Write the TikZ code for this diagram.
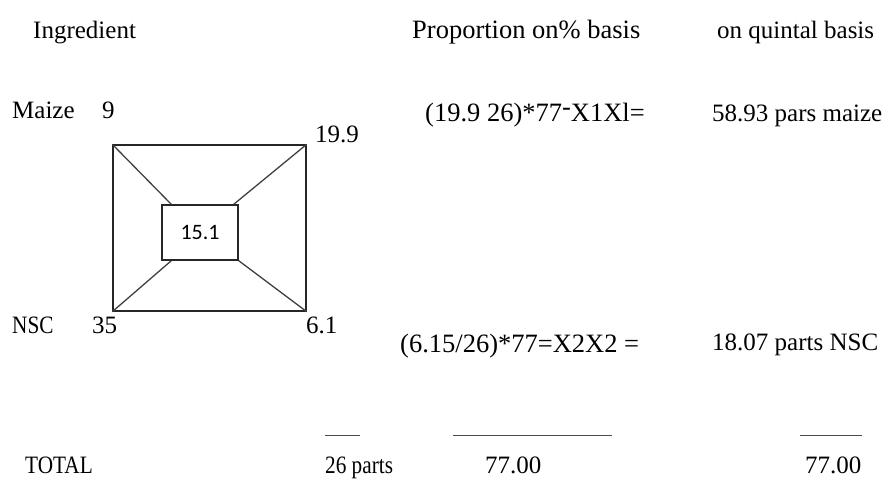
\documentclass[tikz,border=0pt]{standalone}
\usepackage{fontspec}
\setmainfont{Liberation Serif}
\newfontfamily\narrowfont{Liberation Serif}[FakeStretch=0.85]
\newfontfamily\carlito{Carlito}
\usetikzlibrary{calc}
\tikzset{
  txt/.style={anchor=base west, inner sep=0pt, font=\fontsize{25}{28}\selectfont},
  bigtxt/.style={anchor=base west, inner sep=0pt, font=\fontsize{26.5}{30}\selectfont},
  narrowtxt/.style={anchor=base west, inner sep=0pt, font=\narrowfont\fontsize{25}{28}\selectfont},
  frame/.style={draw=black!85, line width=1.3pt, inner sep=0pt},
  diag/.style={draw=black!75, line width=1.3pt},
  rule/.style={draw=black!70, line width=1pt}
}
\begin{document}
\begin{tikzpicture}[x=1pt,y=-1pt]
\useasboundingbox (0,0) rectangle (896,485);
% headers
\node[txt] (hIng) at (33,38) {Ingredient};
\node[bigtxt] (hProp) at (412,38) {Proportion on\% basis};
\node[txt] (hQuin) at (717,38) {on quintal basis};
% square
\node[frame, minimum width=193pt, minimum height=166pt] (outer) at (209.5,228) {};
\node[frame, minimum width=76pt, minimum height=55pt, font=\carlito\fontsize{22}{26}\selectfont] (inner) at (200,232.5) {15.1};
\draw[diag] (outer.north west) -- ($(inner.north west)+(10,0)$);
\draw[diag] (outer.north east) -- ($(inner.north east)+(-5,0)$);
\draw[diag] (outer.south west) -- ($(inner.south west)+(10,0)$);
\draw[diag] (outer.south east) -- (inner.south east);
% labels
\node[txt] (maize) at (12,118) {Maize};
\node[txt] (nine) at (102,118) {9};
\node[txt] (n199) at (315,142) {19.9};
\node[narrowtxt] (nsc) at (12,333) {NSC};
\node[txt] (n35) at (92,333) {35};
\node[txt] (n61) at (306,333) {6.1};
% formulas
\node[bigtxt] (f1) at (425,121) {(19.9 26)*77\raisebox{0.45ex}{-}X1Xl=};
\node[txt] (r1) at (712,121) {58.93 pars maize};
\node[bigtxt] (f2) at (400,352) {(6.15/26)*77=X2X2 =};
\node[txt] (r2) at (712,350) {18.07 parts NSC};
% rules
\coordinate (l1a) at (325,435); \coordinate (l1b) at (360,435);
\coordinate (l2a) at (453,435); \coordinate (l2b) at (612,435);
\coordinate (l3a) at (800,435); \coordinate (l3b) at (862,435);
\draw[rule] (l1a) -- (l1b);
\draw[rule] (l2a) -- (l2b);
\draw[rule] (l3a) -- (l3b);
% totals
\node[narrowtxt] (tot) at (25,473) {TOTAL};
\node[narrowtxt] (t26) at (325,473) {26 parts};
\node[txt] (t77a) at (485,473) {77.00};
\node[txt] (t77b) at (805,473) {77.00};
\end{tikzpicture}
\end{document}
